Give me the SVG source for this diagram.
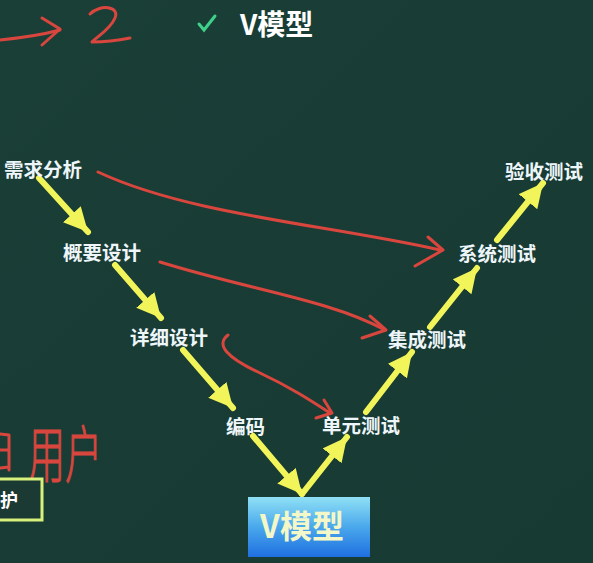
<svg xmlns="http://www.w3.org/2000/svg" width="593" height="563" viewBox="0 0 593 563">
<defs>
<style>
.lbl{font-family:"Noto Sans CJK SC","Liberation Sans",sans-serif;font-size:19.5px;font-weight:700;fill:#eef6fa;}
.ya{stroke:#f2f55a;stroke-width:6;fill:none;stroke-linecap:round;}
.yh{fill:#f2f55a;}
.red{stroke:#d8463e;stroke-width:3;fill:none;stroke-linecap:round;stroke-linejoin:round;}
</style>
<linearGradient id="bg" x1="0" y1="0" x2="1" y2="1">
<stop offset="0" stop-color="#1a3f37"/><stop offset="1" stop-color="#173a33"/>
</linearGradient>
<linearGradient id="box" x1="0" y1="0" x2="0" y2="1">
<stop offset="0" stop-color="#8fe0f5"/><stop offset="0.5" stop-color="#4aa8ec"/><stop offset="1" stop-color="#1f6fe0"/>
</linearGradient>
<marker id="yarrow" viewBox="0 0 10 10" refX="10" refY="5" markerWidth="4" markerHeight="4" orient="auto" markerUnits="strokeWidth">
<path d="M0,0 L10,5 L0,10 z" class="yh"/>
</marker>
</defs>
<rect width="593" height="563" fill="url(#bg)"/>

<g id="title">
<path d="M199,24 L204,30 L215,16" stroke="#3fd08a" stroke-width="3" fill="none" stroke-linecap="round"/>
<text x="240" y="35" font-family="Noto Sans CJK SC,Liberation Sans,sans-serif" font-size="28" font-weight="700" fill="#ffffff">V模型</text>
</g>

<g id="annotations">
<path class="red" d="M0,40 C20,38 45,34 60,30"/>
<path class="red" d="M42,18 L60,29 L42,45"/>
<path class="red" d="M90,14 C100,4 120,6 115,18 C110,30 95,38 92,42 C105,42 120,40 130,38"/>
<text x="28" y="478" textLength="74" lengthAdjust="spacingAndGlyphs" font-family="Noto Sans CJK SC,sans-serif" font-size="62" font-weight="300" fill="#d8463e" stroke="#d8463e" stroke-width="1.2">用户</text>
<path class="red" d="M0,434 L9,435 L9,470 M0,450 L8,450 M0,468 L9,467"/>
</g>

<g id="connectors">
<line class="ya" x1="39" y1="178" x2="88" y2="232" marker-end="url(#yarrow)"/>
<line class="ya" x1="115" y1="265" x2="161" y2="318" marker-end="url(#yarrow)"/>
<line class="ya" x1="183" y1="350" x2="233" y2="408" marker-end="url(#yarrow)"/>
<line class="ya" x1="253" y1="436" x2="302" y2="494" marker-end="url(#yarrow)"/>
<line class="ya" x1="302" y1="494" x2="347" y2="437" marker-end="url(#yarrow)"/>
<line class="ya" x1="366" y1="412" x2="412" y2="352" marker-end="url(#yarrow)"/>
<line class="ya" x1="430" y1="327" x2="477" y2="268" marker-end="url(#yarrow)"/>
<line class="ya" x1="497" y1="240" x2="543" y2="183" marker-end="url(#yarrow)"/>
<path class="red" d="M98,172 C190,215 330,225 440,250"/>
<path class="red" d="M428,237 L443,250 L415,266"/>
<path class="red" d="M160,262 C250,290 330,300 385,330"/>
<path class="red" d="M370,316 L386,330 L362,338"/>
<path class="red" d="M228,335 C215,345 228,358 258,372 C290,387 310,400 330,413"/>
<path class="red" d="M324,400 L332,413 L316,418"/>
</g>

<g id="n1"><text class="lbl" x="4" y="177">需求分析</text></g>
<g id="n2"><text class="lbl" x="63" y="260">概要设计</text></g>
<g id="n3"><text class="lbl" x="130" y="345">详细设计</text></g>
<g id="n4"><text class="lbl" x="226" y="434">编码</text></g>
<g id="n5"><text class="lbl" x="322" y="433">单元测试</text></g>
<g id="n6"><text class="lbl" x="388" y="347">集成测试</text></g>
<g id="n7"><text class="lbl" x="458" y="261">系统测试</text></g>
<g id="n8"><text class="lbl" x="505" y="179">验收测试</text></g>

<g id="vbox">
<rect x="248" y="497" width="122" height="60" fill="url(#box)"/>
<text x="302" y="538" text-anchor="middle" font-family="Noto Sans CJK SC,Liberation Sans,sans-serif" font-size="32" font-weight="700" fill="#f4f7c8">V模型</text>
</g>

<g id="maint">
<rect x="-10" y="479" width="52" height="41" fill="#1b3a33" stroke="#d8f07c" stroke-width="3"/>
<text x="0" y="507" font-family="Noto Sans CJK SC,sans-serif" font-size="18" font-weight="700" fill="#ffffff">护</text>
</g>
</svg>
